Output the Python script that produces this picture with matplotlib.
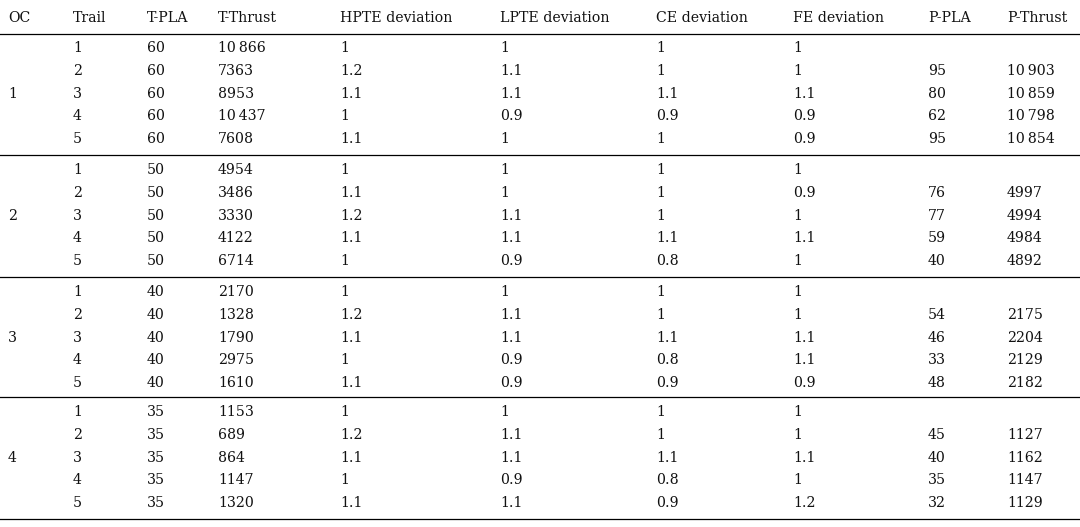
import matplotlib.pyplot as plt

headers = ["OC", "Trail", "T-PLA", "T-Thrust", "HPTE deviation", "LPTE deviation",
           "CE deviation", "FE deviation", "P-PLA", "P-Thrust"]
oc_groups = ["1", "2", "3", "4"]
trail = ["1", "2", "3", "4", "5"]
t_pla = [60, 50, 40, 35]
t_thrust = [["10\u2009866", "7363", "8953", "10\u2009437", "7608"],
            ["4954", "3486", "3330", "4122", "6714"],
            ["2170", "1328", "1790", "2975", "1610"],
            ["1153", "689", "864", "1147", "1320"]]
hpte = [["1", "1.2", "1.1", "1", "1.1"],
        ["1", "1.1", "1.2", "1.1", "1"],
        ["1", "1.2", "1.1", "1", "1.1"],
        ["1", "1.2", "1.1", "1", "1.1"]]
lpte = [["1", "1.1", "1.1", "0.9", "1"],
        ["1", "1", "1.1", "1.1", "0.9"],
        ["1", "1.1", "1.1", "0.9", "0.9"],
        ["1", "1.1", "1.1", "0.9", "1.1"]]
ce = [["1", "1", "1.1", "0.9", "1"],
      ["1", "1", "1", "1.1", "0.8"],
      ["1", "1", "1.1", "0.8", "0.9"],
      ["1", "1", "1.1", "0.8", "0.9"]]
fe = [["1", "1", "1.1", "0.9", "0.9"],
      ["1", "0.9", "1", "1.1", "1"],
      ["1", "1", "1.1", "1.1", "0.9"],
      ["1", "1", "1.1", "1", "1.2"]]
p_pla = [["", "95", "80", "62", "95"],
         ["", "76", "77", "59", "40"],
         ["", "54", "46", "33", "48"],
         ["", "45", "40", "35", "32"]]
p_thrust = [["", "10\u2009903", "10\u2009859", "10\u2009798", "10\u2009854"],
            ["", "4997", "4994", "4984", "4892"],
            ["", "2175", "2204", "2129", "2182"],
            ["", "1127", "1162", "1147", "1129"]]

col_x = [8, 73, 147, 218, 340, 500, 656, 793, 928, 1007]
header_y = 18
group_top = [48, 170, 292, 412]
row_step = 22.8
lines_y = [34, 155, 277, 397, 519]

fig = plt.figure(figsize=(10.8, 5.27), dpi=100)
ax = fig.add_axes([0, 0, 1, 1])
ax.set_xlim(0, 1080)
ax.set_ylim(527, 0)
ax.axis("off")

font = dict(family="DejaVu Serif", fontsize=10.2, va="center", ha="left", color="#111111")

for x, h in zip(col_x, headers):
    ax.text(x, header_y, h, **font)

for y in lines_y:
    ax.plot([0, 1080], [y, y], color="black", lw=0.9)

for g in range(4):
    y0 = group_top[g]
    ax.text(col_x[0], y0 + 2 * row_step, oc_groups[g], **font)
    for r in range(5):
        y = y0 + r * row_step
        vals = [trail[r], str(t_pla[g]), t_thrust[g][r], hpte[g][r], lpte[g][r],
                ce[g][r], fe[g][r], p_pla[g][r], p_thrust[g][r]]
        for x, v in zip(col_x[1:], vals):
            ax.text(x, y, v, **font)

fig.savefig("out.png", dpi=100)
